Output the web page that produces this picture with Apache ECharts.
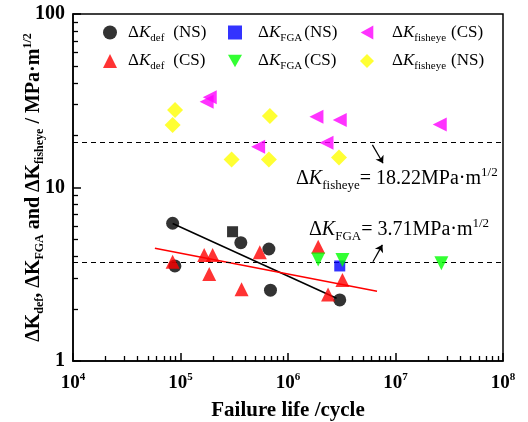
<!DOCTYPE html>
<html>
<head>
<meta charset="utf-8">
<script src="https://cdn.jsdelivr.net/npm/echarts@6/dist/echarts.min.js"></script>
<style>
  html, body { margin: 0; padding: 0; background: #fff; }
  #chart { width: 528px; height: 422px; }
</style>
</head>
<body>
<div id="chart"></div>
<script>
// 数据
const defNS = [[8.45e4, 6.22], [8.87e4, 3.53], [3.64e5, 4.81], [6.64e5, 4.42], [6.87e5, 2.56], [3.03e6, 2.25]];
const defNSsquare = [[3.05e5, 5.56]];
const defCS = [[8.45e4, 3.73], [1.66e5, 4.08], [1.99e5, 4.08], [1.85e5, 3.17], [3.70e5, 2.59], [5.47e5, 4.23], [1.91e6, 4.56], [3.21e6, 2.93], [2.36e6, 2.42]];
const fgaNS = [[3.03e6, 3.53]];
const fgaCS = [[1.91e6, 3.85], [3.21e6, 3.82], [2.67e7, 3.66]];
const fisheyeCS = [[1.87e5, 33.1], [1.75e5, 31.2], [1.84e6, 25.6], [3.03e6, 24.5], [2.58e7, 23.1], [5.27e5, 17.2], [2.28e6, 18.1]];
const fisheyeNS = [[8.9e4, 28.0], [8.45e4, 22.9], [6.78e5, 25.8], [2.99e5, 14.5], [6.64e5, 14.5], [2.98e6, 14.9]];
const fitNS = [[8.45e4, 6.2], [2.83e6, 2.30]];
const fitCS = [[5.78e4, 4.46], [6.73e6, 2.52]];
const kFisheye = 18.22;
const kFGA = 3.71;
const arrowFisheye = [[6.1e6, 17.6], [7.66e6, 13.8]];
const arrowFGA = [[6.17e6, 3.73], [7.55e6, 4.67]];

// 次刻度（对数空间）
const xMinorTicks = [];
for (let d = 4; d < 8; d++) for (let m = 2; m < 10; m++) xMinorTicks.push(d + Math.log10(m));
const yMinorTicks = [];
for (let d = 0; d < 2; d++) for (let m = 2; m < 10; m++) yMinorTicks.push(d + Math.log10(m));

const FONT = 'Liberation Serif';
const ICON_DOWN = 'path://M0,0L10,0L5,9Z';
const ICON_LEFT = 'path://M9,0L9,10L0,5Z';

const legendRich = {
  d: { fontFamily: FONT, fontSize: 17, lineHeight: 22, color: '#000' },
  k: { fontFamily: FONT, fontSize: 17, fontStyle: 'italic', lineHeight: 22, color: '#000' },
  s: { fontFamily: FONT, fontSize: 11, lineHeight: 9, verticalAlign: 'bottom', color: '#000' },
  g1: { width: 6, fontSize: 4 },
  g2: { width: 11, fontSize: 4 },
  g3: { width: 13, fontSize: 4 },
  h1: { width: 9, fontSize: 4 },
  h2: { width: 2, fontSize: 4 },
  h3: { width: 5, fontSize: 4 }
};
const legendNames = {
  'def (NS)': '{g1| }{d|Δ}{k|K}{s|def}{h1| }{d|(NS)}',
  'def (CS)': '{g1| }{d|Δ}{k|K}{s|def}{h1| }{d|(CS)}',
  'FGA (NS)': '{g2| }{d|Δ}{k|K}{s|FGA}{h2| }{d|(NS)}',
  'FGA (CS)': '{g2| }{d|Δ}{k|K}{s|FGA}{h2| }{d|(CS)}',
  'fisheye (CS)': '{g3| }{d|Δ}{k|K}{s|fisheye}{h3| }{d|(CS)}',
  'fisheye (NS)': '{g3| }{d|Δ}{k|K}{s|fisheye}{h3| }{d|(NS)}'
};

function makeLegend(items, left) {
  return {
    data: items,
    orient: 'vertical',
    left: left,
    top: 19,
    itemWidth: 14,
    itemHeight: 14,
    itemGap: 9,
    formatter: (n) => legendNames[n],
    textStyle: { rich: legendRich }
  };
}

const supLabelRich = {
  b: { fontFamily: FONT, fontWeight: 'bold', fontSize: 19, lineHeight: 22, color: '#000' },
  sup: { fontFamily: FONT, fontWeight: 'bold', fontSize: 11, lineHeight: 10, verticalAlign: 'top', color: '#000' }
};

const annRich = {
  d: { fontFamily: FONT, fontSize: 20, lineHeight: 26, fill: '#000' },
  k: { fontFamily: FONT, fontSize: 20, fontStyle: 'italic', lineHeight: 26, fill: '#000' },
  s: { fontFamily: FONT, fontSize: 13, lineHeight: 11, verticalAlign: 'bottom', fill: '#000' },
  p: { fontFamily: FONT, fontSize: 13, lineHeight: 11, verticalAlign: 'top', fill: '#000' }
};

const chart = echarts.init(document.getElementById('chart'));

const option = {
  animation: false,
  grid: {
    left: 73, right: 25, top: 14, bottom: 61, outerBoundsMode: 'none',
    show: true, borderColor: '#000', borderWidth: 1.5
  },
  legend: [
    makeLegend(['def (NS)', 'def (CS)'], 98),
    makeLegend(['FGA (NS)', { name: 'FGA (CS)', icon: ICON_DOWN }], 223),
    makeLegend([{ name: 'fisheye (CS)', icon: ICON_LEFT }, 'fisheye (NS)'], 355)
  ],
  xAxis: [{
    type: 'log', logBase: 10, min: 1e4, max: 1e8,
    name: 'Failure life /cycle', nameLocation: 'middle', nameGap: 39, nameMoveOverlap: false,
    nameTextStyle: { fontFamily: FONT, fontWeight: 'bold', fontSize: 21, color: '#000' },
    axisLine: { lineStyle: { color: '#000', width: 1.5 } },
    axisTick: { show: true, inside: true, length: 8, lineStyle: { color: '#000', width: 1.5 } },
    axisLabel: {
      margin: 11,
      formatter: (v) => '{b|10}{sup|' + Math.round(Math.log10(v)) + '}',
      rich: supLabelRich
    },
    splitLine: { show: false }
  }, {
    // 仅用于绘制次刻度
    type: 'value', min: 4, max: 8, position: 'bottom',
    axisLine: { show: false },
    axisTick: { show: true, inside: true, length: 5, customValues: xMinorTicks, lineStyle: { color: '#000', width: 1.3 } },
    axisLabel: { show: false },
    splitLine: { show: false }
  }],
  yAxis: [{
    type: 'log', logBase: 10, min: 1, max: 100,
    name: '{b|ΔK}{bs|def}{b|, ΔK}{bs|FGA}{b| and ΔK}{bs|fisheye}{b| / MPa·m}{bsup|1/2}',
    nameLocation: 'middle', nameGap: 27, nameRotate: 90, nameMoveOverlap: false,
    nameTextStyle: {
      rich: {
        b: { fontFamily: FONT, fontWeight: 'bold', fontSize: 20, lineHeight: 24, color: '#000' },
        bs: { fontFamily: FONT, fontWeight: 'bold', fontSize: 12, lineHeight: 11, verticalAlign: 'bottom', color: '#000' },
        bsup: { fontFamily: FONT, fontWeight: 'bold', fontSize: 12, lineHeight: 11, verticalAlign: 'top', color: '#000' }
      }
    },
    axisLine: { lineStyle: { color: '#000', width: 1.5 } },
    axisTick: { show: true, inside: true, length: 8, lineStyle: { color: '#000', width: 1.5 } },
    axisLabel: { margin: 8, fontFamily: FONT, fontWeight: 'bold', fontSize: 20, color: '#000' },
    splitLine: { show: false }
  }, {
    // 仅用于绘制次刻度
    type: 'value', min: 0, max: 2, position: 'left',
    axisLine: { show: false },
    axisTick: { show: true, inside: true, length: 5, customValues: yMinorTicks, lineStyle: { color: '#000', width: 1.3 } },
    axisLabel: { show: false },
    splitLine: { show: false }
  }],
  series: [
    {
      name: 'def (NS)', type: 'scatter', data: defNS, symbol: 'circle', symbolSize: 13,
      itemStyle: { color: '#000' }, z: 5
    },
    {
      name: 'def (NS) sq', type: 'scatter', data: defNSsquare, symbol: 'rect', symbolSize: 11,
      itemStyle: { color: '#000' }, z: 5
    },
    {
      name: 'def (CS)', type: 'scatter', data: defCS, symbol: 'triangle', symbolSize: 14,
      itemStyle: { color: '#ff0000' }, z: 6
    },
    {
      name: 'FGA (NS)', type: 'scatter', data: fgaNS, symbol: 'rect', symbolSize: 11,
      itemStyle: { color: '#0000ff' }, z: 5
    },
    {
      name: 'FGA (CS)', type: 'scatter', data: fgaCS, symbol: 'triangle', symbolRotate: 180, symbolSize: 14,
      itemStyle: { color: '#00ff00' }, z: 6
    },
    {
      name: 'fisheye (CS)', type: 'scatter', data: fisheyeCS, symbol: 'triangle', symbolRotate: 90, symbolSize: 14,
      itemStyle: { color: '#ff00ff' }, z: 5
    },
    {
      name: 'fisheye (NS)', type: 'scatter', data: fisheyeNS, symbol: 'diamond', symbolSize: 16,
      itemStyle: { color: '#ffff00' }, z: 5
    },
    {
      name: 'fit NS', type: 'line', data: fitNS, showSymbol: false, symbol: 'none',
      lineStyle: { color: '#000', width: 1.5 }, z: 4
    },
    {
      name: 'fit CS', type: 'line', data: fitCS, showSymbol: false, symbol: 'none',
      lineStyle: { color: '#ff0000', width: 1.5 }, z: 4,
      markLine: {
        silent: true, symbol: 'none', label: { show: false },
        lineStyle: { color: '#000', type: [5, 4], width: 1.2 },
        data: [{ yAxis: kFisheye }, { yAxis: kFGA }]
      }
    },
    {
      name: 'arrows', type: 'line', data: [], z: 7,
      markLine: {
        silent: true, symbol: ['none', 'arrow'], symbolSize: 7, label: { show: false },
        lineStyle: { color: '#000', type: 'solid', width: 1.2 },
        data: [
          [{ coord: arrowFisheye[0] }, { coord: arrowFisheye[1] }],
          [{ coord: arrowFGA[0] }, { coord: arrowFGA[1] }]
        ]
      }
    }
  ],
  graphic: [
    {
      type: 'text', left: 296, top: 166, z: 10,
      style: { text: '{d|Δ}{k|K}{s|fisheye}{d|= 18.22MPa·m}{p|1/2}', rich: annRich }
    },
    {
      type: 'text', left: 309, top: 217, z: 10,
      style: { text: '{d|Δ}{k|K}{s|FGA}{d|= 3.71MPa·m}{p|1/2}', rich: annRich }
    }
  ]
};

chart.setOption(option);
</script>
</body>
</html>
